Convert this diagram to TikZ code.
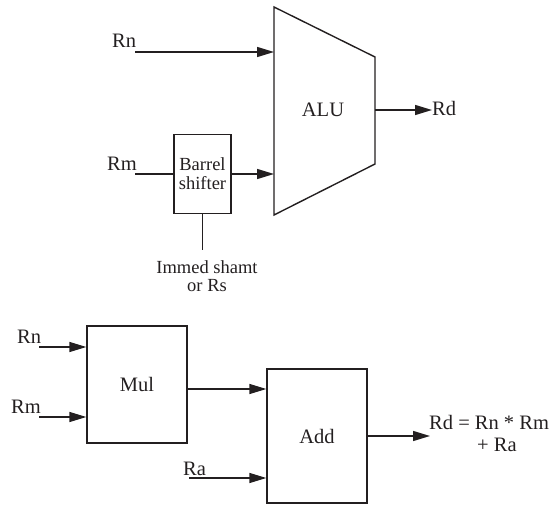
\documentclass[tikz,border=0pt]{standalone}
\usepackage{fontspec}
\setmainfont{Liberation Serif}
\usetikzlibrary{arrows.meta}
\definecolor{ink}{RGB}{35,31,32}
\begin{document}
\begin{tikzpicture}[x=1pt,y=-1pt,
  wire/.style={draw=ink,line width=1.4pt},
  sig/.style={wire,-{Triangle[length=17pt,width=10pt]}},
  blk/.style={draw=ink,line width=1.4pt,rectangle,inner sep=0pt,align=center,text=ink},
  lbl/.style={font=\fontsize{20.5}{22}\selectfont,text=ink,inner sep=0pt},
  small/.style={font=\fontsize{18.5}{19}\selectfont,text=ink,inner sep=0pt,align=center}]
\useasboundingbox (0,0) rectangle (554,505);

% ---- ALU ----
\coordinate (aluTL) at (274,7);
\coordinate (aluTR) at (375,57);
\coordinate (aluBR) at (375,164);
\coordinate (aluBL) at (274,215);
\draw[wire,line join=miter] (aluTL) -- (aluTR) -- (aluBR) -- (aluBL) -- cycle;
\node[lbl] (alu) at (323,110) {ALU};
\coordinate (aluin1) at (274,52);
\coordinate (aluin2) at (274,174);
\coordinate (aluout) at (375,110);

% barrel shifter
\node[blk,small,minimum width=57pt,minimum height=79pt] (bs) at (202.5,174) {Barrel\\shifter};

% top labels
\node[lbl,anchor=base west] (rnTl) at (112,48) {Rn};
\node[lbl,anchor=base west] (rmTl) at (107,171) {Rm};
\node[lbl,anchor=base west] (rdTl) at (432,116) {Rd};
\node[small,anchor=base] (imm1) at (207,273) {Immed shamt};
\node[small,anchor=base] (imm2) at (207,291) {or Rs};

\coordinate (rnT) at (135,52);
\coordinate (rmT) at (135,174);
\coordinate (rdT) at (432,110);
\coordinate (shamt) at (202.5,250);

\draw[sig] (rnT) -- (aluin1);
\draw[wire] (rmT) -- (bs.west);
\draw[sig] (bs.east) -- (aluin2);
\draw[wire] (bs.south) -- (shamt);
\draw[sig] (aluout) -- (rdT);

% ---- Multiply-accumulate ----
\node[blk,lbl,minimum width=100pt,minimum height=117pt] (mul) at (137,384.5) {Mul};
\node[blk,lbl,minimum width=100pt,minimum height=134pt] (add) at (317,436) {Add};

\node[lbl,anchor=base west] (rnBl) at (17,343) {Rn};
\node[lbl,anchor=base west] (rmBl) at (11,413) {Rm};
\node[lbl,anchor=base west] (ral) at (183,475) {Ra};
\node[lbl,anchor=base west] (res1) at (429,429) {Rd = Rn * Rm};
\node[lbl,anchor=base west] (res2) at (477,451) {+ Ra};

\coordinate (rnB) at (39,347);
\coordinate (rmB) at (39,417);
\coordinate (mulout) at (187,389);
\coordinate (raB) at (189,478);
\coordinate (rdB) at (430,436);

\draw[sig] (rnB) -- (rnB -| mul.west);
\draw[sig] (rmB) -- (rmB -| mul.west);
\draw[sig] (mulout) -- (mulout -| add.west);
\draw[sig] (raB) -- (raB -| add.west);
\draw[sig] (add.east) -- (rdB);
\end{tikzpicture}
\end{document}
